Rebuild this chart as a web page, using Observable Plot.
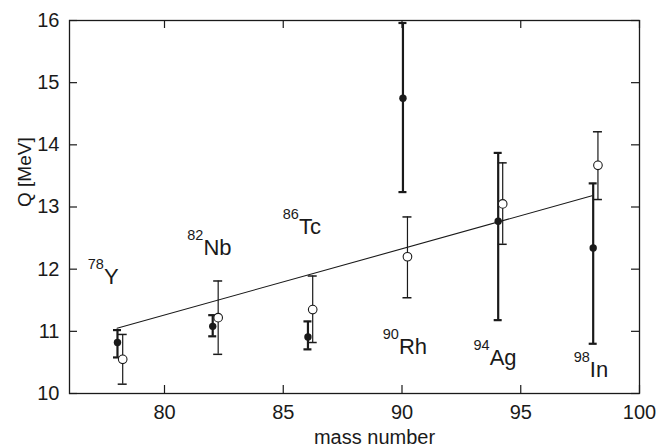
<!DOCTYPE html>
<html>
<head>
<meta charset="utf-8">
<script src="https://cdn.jsdelivr.net/npm/d3@7"></script>
<script src="https://cdn.jsdelivr.net/npm/@observablehq/plot@0.6"></script>
<style>
  html, body { margin: 0; padding: 0; background: #fff; }
  #chart { width: 672px; height: 446px; }
</style>
</head>
<body>
<div id="chart"></div>
<script>
// ---- data ----
const filledMass = [78.02, 82.03, 86.04, 90.04, 94.05, 98.05];
const filledQ    = [10.82, 11.08, 10.91, 14.75, 12.77, 12.34];
const filledLo   = [10.58, 10.92, 10.71, 13.24, 11.18, 10.80];
const filledHi   = [11.02, 11.26, 11.16, 15.96, 13.87, 13.38];

const openMass = [78.24, 82.26, 86.24, 90.23, 94.24, 98.25];
const openQ    = [10.55, 11.22, 11.35, 12.20, 13.05, 13.67];
const openLo   = [10.15, 10.63, 10.82, 11.54, 12.40, 13.12];
const openHi   = [10.95, 11.81, 11.89, 12.84, 13.71, 14.21];

const fitMass = [78, 98];
const fitQ    = [11.05, 13.18];

const labelMass = [77.45, 81.64, 85.66, 89.87, 93.69, 97.91];
const labelQ    = [11.76, 12.22, 12.57, 10.63, 10.46, 10.27];
const labelA    = ["78", "82", "86", "90", "94", "98"];
const labelEl   = ["Y", "Nb", "Tc", "Rh", "Ag", "In"];

const xTicks = [80, 85, 90, 95, 100];
const yTicks = [10, 11, 12, 13, 14, 15, 16];
const xDomain = [76, 100];
const yDomain = [10, 16];

// ---- build tables ----
const filled = filledMass.map((m, i) => ({m, q: filledQ[i], lo: filledLo[i], hi: filledHi[i]}));
const open = openMass.map((m, i) => ({m, q: openQ[i], lo: openLo[i], hi: openHi[i]}));
const fit = fitMass.map((m, i) => ({m, q: fitQ[i]}));
const labels = labelMass.map((m, i) => ({m, q: labelQ[i], a: labelA[i], el: labelEl[i]}));

const W = 672, H = 446;
const mL = 69, mR = 33, mT = 20, mB = 53;
const pw = W - mL - mR, ph = H - mT - mB;
const ink = "#1a1a1a";
const tickLen = 8;
const intFmt = d3.format("d");

const chart = Plot.plot({
  width: W, height: H,
  marginLeft: mL, marginRight: mR, marginTop: mT, marginBottom: mB,
  style: {fontFamily: "'Liberation Sans', Arial, sans-serif", color: ink, background: "#fff"},
  x: {domain: xDomain, ticks: xTicks, tickFormat: intFmt},
  y: {domain: yDomain, ticks: yTicks, tickFormat: intFmt},
  marks: [
    // inward ticks on all four sides
    Plot.ruleY(yTicks, {y: d => d, insetRight: pw - tickLen, stroke: ink, strokeWidth: 1.2}),
    Plot.ruleY(yTicks, {y: d => d, insetLeft: pw - tickLen, stroke: ink, strokeWidth: 1.2}),
    Plot.ruleX(xTicks, {x: d => d, insetTop: ph - tickLen, stroke: ink, strokeWidth: 1.2}),
    Plot.ruleX(xTicks, {x: d => d, insetBottom: ph - tickLen, stroke: ink, strokeWidth: 1.2}),
    Plot.axisX({ticks: xTicks, tickFormat: intFmt, tickSize: 0, tickPadding: 11, fontSize: 20, label: null}),
    Plot.axisY({ticks: yTicks, tickFormat: intFmt, tickSize: 0, tickPadding: 10, fontSize: 20, label: null}),
    Plot.frame({stroke: ink, strokeWidth: 1.3}),
    // fit line
    Plot.line(fit, {x: "m", y: "q", stroke: ink, strokeWidth: 1.1}),
    // open error bars
    Plot.ruleX(open, {x: "m", y1: "lo", y2: "hi", stroke: ink, strokeWidth: 1.2}),
    Plot.ruleY(open, {y: "lo", x1: "m", x2: "m", insetLeft: -4.5, insetRight: -4.5, stroke: ink, strokeWidth: 1.5}),
    Plot.ruleY(open, {y: "hi", x1: "m", x2: "m", insetLeft: -4.5, insetRight: -4.5, stroke: ink, strokeWidth: 1.5}),
    // filled error bars
    Plot.ruleX(filled, {x: "m", y1: "lo", y2: "hi", stroke: ink, strokeWidth: 2.2}),
    Plot.ruleY(filled, {y: "lo", x1: "m", x2: "m", insetLeft: -4, insetRight: -4, stroke: ink, strokeWidth: 2.2}),
    Plot.ruleY(filled, {y: "hi", x1: "m", x2: "m", insetLeft: -4, insetRight: -4, stroke: ink, strokeWidth: 2.2}),
    // points
    Plot.dot(open, {x: "m", y: "q", r: 4.3, fill: "#fff", stroke: ink, strokeWidth: 1.1}),
    Plot.dot(filled, {x: "m", y: "q", r: 3.7, fill: ink, stroke: "none"}),
    // nuclide labels
    Plot.text(labels, {x: "m", y: "q", text: "el", textAnchor: "start", lineAnchor: "bottom", fontSize: 22, fill: ink}),
    Plot.text(labels, {x: "m", y: "q", text: "a", textAnchor: "end", lineAnchor: "bottom", dy: -15, fontSize: 14.5, fill: ink}),
    // axis titles
    Plot.text(["mass number"], {frameAnchor: "bottom", text: d => d, dx: 20, dy: 50, lineAnchor: "bottom", fontSize: 20, fill: ink}),
    Plot.text(["Q [MeV]"], {frameAnchor: "left", text: d => d, rotate: -90, dx: -45, fontSize: 19, fill: ink})
  ]
});
document.getElementById("chart").appendChild(chart);
</script>
</body>
</html>
